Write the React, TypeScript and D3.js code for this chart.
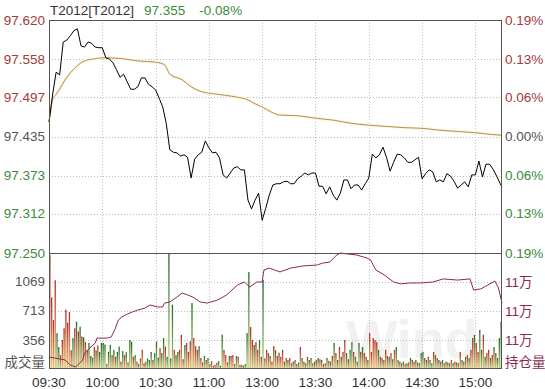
import * as d3 from 'd3';

// prior settlement, used for the % axis
const BASE = 97.435;
const LAST = 97.355;

const priceTicks = [97.25, 97.312, 97.373, 97.435, 97.497, 97.558, 97.62];
const volTicks = [356, 713, 1069];
const oiTicks = [109500, 111000, 112500];
const timeLabels = ['09:30', '10:00', '10:30', '11:00', '13:00', '13:30', '14:00', '14:30', '15:00'];
const timeTickMinutes = [0, 30, 60, 90, 120, 150, 180, 210, 240];

// last price, one point every 2 minutes (trading minutes from 09:30), final point at close
const prices = [
  97.458, 97.501, 97.537, 97.533, 97.585, 97.588, 97.595, 97.603, 97.606, 97.579,
  97.577, 97.585, 97.583, 97.577, 97.576, 97.576, 97.56, 97.558, 97.552, 97.541,
  97.529, 97.534, 97.522, 97.51, 97.51, 97.514, 97.528, 97.528, 97.518, 97.514,
  97.509, 97.496, 97.482, 97.456, 97.414, 97.41, 97.409, 97.404, 97.406, 97.402,
  97.369, 97.399, 97.406, 97.41, 97.428, 97.417, 97.409, 97.41, 97.401, 97.374,
  97.369, 97.377, 97.385, 97.387, 97.382, 97.382, 97.334, 97.32, 97.334, 97.345,
  97.302, 97.321, 97.342, 97.358, 97.36, 97.36, 97.363, 97.364, 97.36, 97.36,
  97.368, 97.372, 97.377, 97.374, 97.377, 97.377, 97.356, 97.356, 97.344, 97.355,
  97.342, 97.334, 97.345, 97.366, 97.366, 97.352, 97.358, 97.358, 97.35, 97.36,
  97.369, 97.407, 97.401, 97.406, 97.418, 97.402, 97.38, 97.394, 97.407, 97.406,
  97.401, 97.394, 97.394, 97.398, 97.402, 97.368, 97.376, 97.382, 97.379, 97.363,
  97.366, 97.363, 97.376, 97.372, 97.364, 97.353, 97.358, 97.363, 97.355, 97.374,
  97.374, 97.396, 97.371, 97.391, 97.391, 97.383, 97.372, 97.36, 97.355,
];

// average price line
const avgMinutes = [0, 1, 2, 4, 6, 9, 12, 15, 20, 25, 30, 40, 50, 60, 65, 68, 75, 80, 85, 95, 105, 112, 116, 120, 125, 130, 140, 150, 160, 170, 180, 190, 200, 210, 220, 230, 240, 250, 255];
const avgPrices = [
  97.458, 97.477, 97.493, 97.502, 97.51, 97.525, 97.536, 97.545, 97.555, 97.558,
  97.56, 97.559, 97.555, 97.553, 97.549, 97.534, 97.525, 97.514, 97.507, 97.502,
  97.498, 97.493, 97.487, 97.482, 97.474, 97.469, 97.468, 97.464, 97.461, 97.456,
  97.453, 97.451, 97.449, 97.448, 97.445, 97.443, 97.441, 97.438, 97.437,
];

// volume per minute
const volumes = [
  1400, 880, 600, 1090, 440, 270, 170, 356, 500, 730,
  570, 700, 230, 380, 500, 580, 460, 520, 400, 390,
  330, 230, 320, 160, 140, 270, 230, 290, 210, 320,
  320, 300, 60, 210, 295, 170, 235, 150, 210, 275,
  90, 220, 170, 205, 80, 356, 335, 150, 170, 90,
  60, 130, 235, 70, 90, 130, 110, 210, 110, 195,
  335, 140, 255, 195, 380, 275, 150, 1425, 130, 790,
  235, 170, 210, 235, 420, 120, 295, 320, 210, 340,
  810, 380, 280, 235, 280, 135, 80, 160, 110, 135,
  60, 95, 40, 50, 75, 95, 40, 420, 235, 170,
  80, 160, 160, 170, 60, 160, 150, 50, 50, 40,
  60, 440, 1190, 515, 356, 295, 330, 235, 356, 150,
  1095, 130, 235, 195, 160, 90, 280, 230, 160, 200,
  150, 235, 90, 135, 110, 135, 70, 90, 110, 60,
  80, 270, 135, 90, 70, 150, 110, 135, 70, 90,
  110, 135, 120, 110, 60, 70, 135, 100, 90, 160,
  320, 195, 110, 270, 150, 210, 356, 195, 120, 235,
  330, 210, 150, 90, 320, 210, 270, 195, 150, 110,
  440, 210, 380, 356, 330, 235, 150, 135, 110, 235,
  160, 150, 195, 120, 235, 270, 110, 90, 70, 90,
  60, 70, 80, 135, 110, 90, 110, 80, 70, 195,
  210, 135, 110, 150, 110, 70, 210, 170, 135, 110,
  90, 110, 70, 90, 80, 70, 110, 70, 90, 80,
  70, 210, 110, 90, 150, 170, 135, 235, 380, 420,
  320, 210, 480, 235, 420, 150, 195, 235, 135, 170,
  270, 195, 135, 380, 580,
];
// bar colour per minute: r = up, g = down
const volSides =
  'rrrrggrrrr' + 'rrrgrgrgrg' + 'rrgggrgrgg' + 'ggrggrgrgg' + 'rgrgrggrgr' +
  'grrgrgggrg' + 'ggrggrgggg' + 'rggrrrgrrr' + 'grrrgrrgrg' + 'rgrrrgggrr' +
  'rgrrgrgrrg' + 'gggrrgrrgr' + 'grrgrrrgrr' + 'rrgrgrrgrg' + 'grgrgrggrg' +
  'rgrgrrgrgr' + 'grgrgrrgrg' + 'grgrgrgrrg' + 'rrrrrgrrgr' + 'rgrgrgrgrg' +
  'rgrgrrgrgg' + 'grgrggrgrg' + 'rgrgrgrgrg' + 'rrgrgrgrrg' + 'rrggrgrrgr' + 'grggg';

// open interest
const oiMinutes = [0, 3, 9, 12, 15, 19, 20, 23, 26, 27, 33, 35, 37, 39, 41, 44, 47, 50, 54, 57, 61, 64, 65, 68, 72, 75, 78, 81, 85, 89, 95, 100, 106, 110, 113, 117, 120, 121, 124, 130, 136, 143, 151, 154, 158, 162, 164, 168, 173, 179, 181, 184, 188, 194, 198, 203, 209, 216, 222, 230, 237, 239, 243, 247, 251, 253, 255];
const oiValues = [
  108620, 108570, 108470, 108210, 108100, 108470, 108830, 109090, 109340, 109600,
  109600, 109660, 110020, 110530, 110690, 110840, 110950, 111050, 111150, 111310,
  111210, 111210, 111410, 111470, 111720, 111930, 111830, 111720, 111470, 111410,
  111570, 111830, 112340, 112500, 112240, 112500, 112500, 113120, 113220, 113020,
  113220, 113330, 113380, 113480, 113530, 113900, 114000, 113950, 113900, 113740,
  113640, 113120, 112910, 112500, 112400, 112450, 112450, 112500, 112660, 112600,
  112660, 112090, 112140, 112340, 112550, 112190, 111410,
];

const W = 545;
const H = 389;
const L = 49;
const R = 502;
const T = 20;
const MID = 253;
const B = 369;
const FONT = '"Liberation Sans", "Noto Sans CJK SC", Arial, sans-serif';
const RED = '#a23b3b';
const GREEN = '#3b8a3b';
const GRAY = '#555';
const OI = '#8c2a4e';

export default function App() {
  const x = d3.scaleLinear().domain([0, 255]).range([L, R]);
  const y = d3.scaleLinear().domain([97.25, 97.62]).range([MID, T]);
  const yv = d3.scaleLinear().domain([0, 1425]).range([B, MID]);
  const yo = d3.scaleLinear().domain([108000, 114000]).range([B, MID]);

  const priceLine = d3
    .line<number>()
    .x((_, i) => x(Math.min(i * 2, 255)))
    .y((d) => y(d));
  const avgLine = d3
    .line<number>()
    .x((_, i) => x(avgMinutes[i]))
    .y((d) => y(d))
    .curve(d3.curveMonotoneX);
  const oiLine = d3
    .line<number>()
    .x((_, i) => x(oiMinutes[i]))
    .y((d) => yo(d));

  const priceColor = (t: number) => (Math.abs(t - BASE) < 1e-6 ? GRAY : t > BASE ? RED : GREEN);
  const pct = (t: number) => `${Math.abs(((t - BASE) / BASE) * 100).toFixed(2)}%`;
  const chg = (((LAST - BASE) / BASE) * 100).toFixed(2) + '%';

  return (
    <svg
      width={W}
      height={H}
      style={{ position: 'absolute', left: 0, top: 0, background: '#fff' }}
      fontFamily={FONT}
      fontSize={13.5}
    >
      <defs>
        <linearGradient id="barRed" x1="0" y1="0" x2="0" y2="1">
          <stop offset="0%" stopColor="#b0281e" />
          <stop offset="100%" stopColor="#ecc67a" />
        </linearGradient>
        <linearGradient id="barGreen" x1="0" y1="0" x2="0" y2="1">
          <stop offset="0%" stopColor="#1f6a1f" />
          <stop offset="100%" stopColor="#c4d58a" />
        </linearGradient>
      </defs>

      <rect x={0} y={0} width={W} height={H} fill="#fff" />

      {/* watermark */}
      <text x={412} y={358} fontSize={54} fontWeight="bold" textAnchor="middle" fill="#000" opacity={0.05}>
        Wind
      </text>

      {/* title */}
      <text x={50} y={15} fill="#333">
        T2012[T2012]
        <tspan dx={10} fill={GREEN}>{LAST.toFixed(3)}</tspan>
        <tspan dx={14} fill={GREEN}>{chg}</tspan>
      </text>

      {/* grid */}
      <g stroke="#bdbdbd" strokeDasharray="1,2" strokeWidth={1}>
        {priceTicks.slice(1, -1).map((t) => (
          <line key={`p${t}`} x1={L} x2={R} y1={Math.round(y(t)) + 0.5} y2={Math.round(y(t)) + 0.5} />
        ))}
        {volTicks.map((t) => (
          <line key={`v${t}`} x1={L} x2={R} y1={Math.round(yv(t)) + 0.5} y2={Math.round(yv(t)) + 0.5} />
        ))}
        {timeTickMinutes.slice(1).map((m) => (
          <line key={`t${m}`} x1={Math.round(x(m)) + 0.5} x2={Math.round(x(m)) + 0.5} y1={T} y2={B} />
        ))}
      </g>

      {/* volume bars */}
      <g>
        {volumes.map((v, i) => (
          <rect
            key={i}
            x={x(i + 0.5) - 0.65}
            y={yv(v)}
            width={1.3}
            height={B - yv(v)}
            fill={volSides.charAt(i) === 'g' ? 'url(#barGreen)' : 'url(#barRed)'}
          />
        ))}
      </g>

      {/* open interest */}
      <path d={oiLine(oiValues) ?? ''} fill="none" stroke={OI} strokeWidth={1} />

      {/* average price */}
      <path d={avgLine(avgPrices) ?? ''} fill="none" stroke="#fdf5dc" strokeWidth={3} />
      <path d={avgLine(avgPrices) ?? ''} fill="none" stroke="#b48e58" strokeWidth={1} />

      {/* last price */}
      <path d={priceLine(prices) ?? ''} fill="none" stroke="#000" strokeWidth={1} strokeLinejoin="round" />

      {/* frame */}
      <g stroke="#555" strokeWidth={1} fill="none">
        <rect x={L + 0.5} y={T + 0.5} width={R - L - 1} height={B - T - 1} />
        <line x1={L} x2={R} y1={MID + 0.5} y2={MID + 0.5} />
      </g>

      {/* left price axis */}
      <g textAnchor="end" dominantBaseline="central">
        {priceTicks.map((t) => (
          <text key={t} x={45} y={y(t)} fill={priceColor(t)}>
            {t.toFixed(3)}
          </text>
        ))}
        {volTicks.map((t) => (
          <text key={t} x={45} y={yv(t)} fill={GRAY}>
            {t}
          </text>
        ))}
        <text x={45} y={362} fill={GRAY}>
          成交量
        </text>
      </g>

      {/* right % axis */}
      <g textAnchor="start" dominantBaseline="central">
        {priceTicks.map((t) => (
          <text key={t} x={505} y={y(t)} fill={priceColor(t)}>
            {pct(t)}
          </text>
        ))}
        {oiTicks.map((t) => (
          <text key={t} x={505} y={yo(t)} fill={OI}>
            {Math.round(t / 10000)}万
          </text>
        ))}
        <text x={505} y={362} fill={OI}>
          持仓量
        </text>
      </g>

      {/* time axis */}
      <g textAnchor="middle" fill="#333">
        {timeTickMinutes.map((m, i) => (
          <text key={m} x={x(m)} y={387}>
            {timeLabels[i]}
          </text>
        ))}
      </g>
    </svg>
  );
}
